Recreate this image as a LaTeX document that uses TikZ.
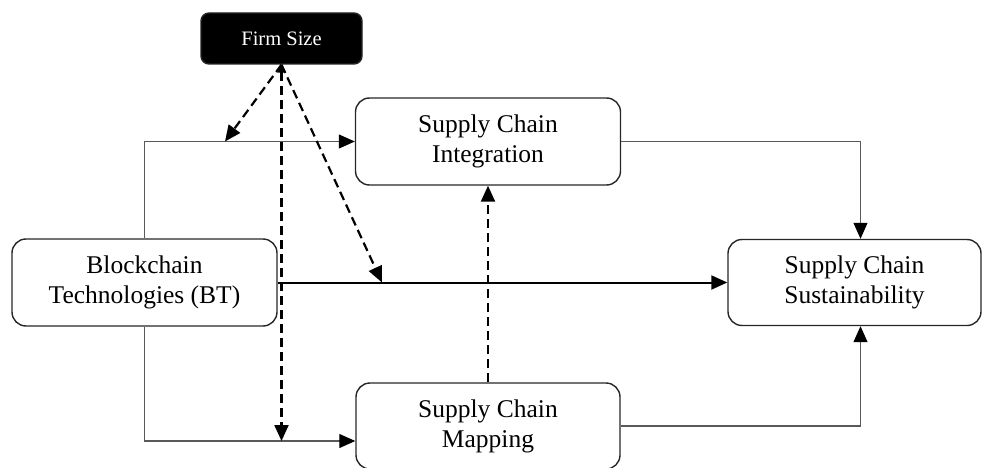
\documentclass[tikz,border=0pt]{standalone}
\usepackage{fontspec}
\setmainfont{Liberation Serif}
\usetikzlibrary{arrows.meta,calc}
\begin{document}
\begin{tikzpicture}[x=1pt,y=-1pt,
  box/.style={draw=black!85,line width=1.4pt,rounded corners=14pt,align=center,
    font=\fontsize{25.5}{30}\selectfont,inner sep=0pt},
  tip/.style={-{Triangle[length=16pt,width=14pt,color=black,fill=black]}},
  thin/.style={draw=black!65,line width=1.1pt,tip},
  thick/.style={draw=black,line width=2pt,tip},
  dsh/.style={draw=black,line width=2.2pt,dash pattern=on 9pt off 5pt,tip}]
\useasboundingbox (0,0) rectangle (982,468);
\node[box,fill=black,text=white,minimum width=161pt,minimum height=51pt,rounded corners=8pt,
  font=\fontsize{20.5}{24}\selectfont] (fs) at (281.5,38.5) {Firm Size};
\node[box,minimum width=265pt,minimum height=87pt] (sci) at (488,141.5) {Supply Chain\\Integration};
\node[box,minimum width=265pt,minimum height=87pt] (bt) at (144.5,282.5) {Blockchain\\Technologies (BT)};
\node[box,minimum width=253pt,minimum height=86pt] (scs) at (854.5,282.5) {Supply Chain\\Sustainability};
\node[box,minimum width=264pt,minimum height=86pt] (scm) at (488,426) {Supply Chain\\Mapping};
\draw[thin] (bt.north) |- (sci.west);
\draw[thin] (bt.south) |- ([yshift=-15pt]scm.west);
\draw[thick] (bt.east) -- (scs.west);
\draw[thin] (sci.east) -| ([xshift=6pt]scs.north);
\draw[thin] (scm.east) -| ([xshift=6pt]scs.south);
\draw[dsh] (scm.north) -- (sci.south);
\coordinate (m1) at (225,141.5);
\coordinate (m2) at (fs.south |- 0,441);
\coordinate (m3) at (382,282.5);
\draw[dsh] (fs.south) -- (m1);
\draw[dsh,{Triangle[length=8pt,width=8pt]}-{Triangle[length=16pt,width=14pt]}] (fs.south) -- (m2);
\draw[dsh] (fs.south) -- (m3);
\end{tikzpicture}
\end{document}
